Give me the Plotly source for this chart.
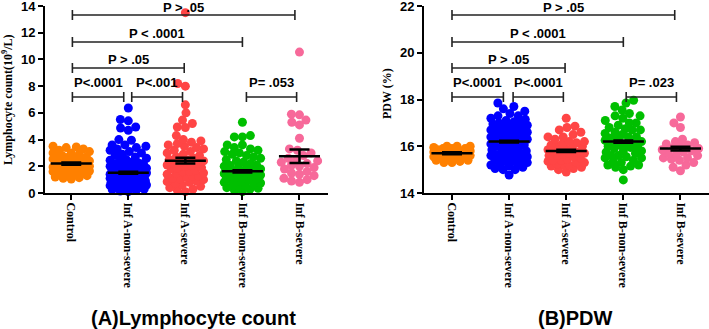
import math
import plotly.graph_objects as go

categories = ["Control", "Inf A-non-severe", "Inf A-severe", "Inf B-non-severe", "Inf B-severe"]
colors = ["#FF8000", "#0000FF", "#FF4545", "#00BF00", "#F7699A"]

# ---- Lymphocyte count (10^9/L) ----
lym_control = [1.05, 1.1, 1.15, 1.2, 1.3, 1.35, 1.4, 1.5, 1.55, 1.6, 1.65, 1.7, 1.75, 1.8, 1.85, 1.9, 1.95, 2.0, 2.0,
               2.05, 2.1, 2.15, 2.2, 2.2, 2.25, 2.3, 2.35, 2.4, 2.45, 2.5, 2.55, 2.6, 2.65, 2.7, 2.75, 2.8, 2.9,
               3.0, 3.0, 3.1, 3.2, 3.3, 3.4, 3.45, 3.5]
lym_infa_non = [0.1, 0.15, 0.2, 0.25, 0.3, 0.3, 0.35, 0.4, 0.4, 0.45, 0.5, 0.5, 0.55, 0.6, 0.6, 0.65, 0.7, 0.7,
                0.75, 0.8, 0.8, 0.85, 0.9, 0.9, 0.95, 1.0, 1.0, 1.05, 1.1, 1.1, 1.15, 1.2, 1.2, 1.25, 1.3, 1.3,
                1.35, 1.4, 1.4, 1.45, 1.5, 1.5, 1.55, 1.6, 1.6, 1.65, 1.7, 1.7, 1.75, 1.8, 1.85, 1.9, 1.95, 2.0,
                2.0, 2.1, 2.15, 2.2, 2.25, 2.3, 2.4, 2.45, 2.5, 2.6, 2.7, 2.8, 2.9, 3.0, 3.1, 3.2, 3.3, 3.4, 3.5,
                3.6, 3.6, 3.95, 4.0, 4.7, 4.87, 4.94, 5.4, 5.5, 6.36]
lym_infa_sev = [0.1, 0.2, 0.3, 0.4, 0.5, 0.6, 0.7, 0.8, 0.85, 0.9, 1.0, 1.05, 1.1, 1.2, 1.25, 1.3, 1.4, 1.45, 1.5,
                1.6, 1.65, 1.7, 1.8, 1.85, 1.9, 2.0, 2.05, 2.1, 2.2, 2.25, 2.3, 2.4, 2.45, 2.5, 2.6, 2.7, 2.8, 2.9,
                3.0, 3.1, 3.2, 3.3, 3.4, 3.5, 3.6, 3.7, 3.8, 3.9, 4.0, 4.3, 4.9, 4.94, 5.2, 5.46, 6.0, 6.6, 8.0,
                8.2, 13.5]
lym_infb_non = [0.1, 0.2, 0.3, 0.35, 0.4, 0.5, 0.55, 0.6, 0.7, 0.75, 0.8, 0.85, 0.9, 1.0, 1.0, 1.05, 1.1, 1.15,
                1.2, 1.25, 1.3, 1.35, 1.4, 1.45, 1.5, 1.5, 1.55, 1.6, 1.65, 1.7, 1.75, 1.8, 1.85, 1.9, 2.0, 2.05,
                2.1, 2.2, 2.3, 2.4, 2.5, 2.6, 2.7, 2.8, 2.9, 3.0, 3.1, 3.2, 3.3, 3.4, 3.6, 3.6, 4.2, 4.2, 4.3, 5.3]
lym_infb_sev = [0.8, 0.9, 1.0, 1.1, 1.3, 1.4, 1.5, 1.6, 1.8, 1.9, 2.0, 2.1, 2.2, 2.3, 2.4, 2.5, 2.6, 2.8, 3.0, 3.2,
                3.3, 4.1, 5.1, 5.3, 5.46, 5.85, 5.9, 10.55]
lym_center = [2.2, 1.52, 2.42, 1.62, 2.75]
lym_sem = [0.08, 0.07, 0.22, 0.08, 0.5]

# ---- PDW (%) ----
pdw_control = [15.3, 15.3, 15.35, 15.4, 15.4, 15.45, 15.5, 15.5, 15.5, 15.55, 15.6, 15.6, 15.6, 15.65, 15.65, 15.7,
               15.7, 15.7, 15.75, 15.8, 15.8, 15.8, 15.85, 15.9, 15.9, 15.9, 15.95, 16.0, 16.0, 16.0]
pdw_infa_non = [14.77, 15.0, 15.0, 15.05, 15.1, 15.15, 15.2, 15.2, 15.25, 15.3, 15.35, 15.4, 15.4, 15.45, 15.5,
                15.5, 15.55, 15.6, 15.6, 15.65, 15.7, 15.75, 15.8, 15.8, 15.85, 15.9, 15.95, 16.0, 16.0, 16.05,
                16.1, 16.1, 16.15, 16.2, 16.25, 16.3, 16.3, 16.35, 16.4, 16.4, 16.45, 16.5, 16.55, 16.6, 16.6,
                16.65, 16.7, 16.7, 16.75, 16.8, 16.85, 16.9, 16.9, 16.95, 17.0, 17.0, 17.05, 17.1, 17.15, 17.2,
                17.3, 17.3, 17.4, 17.5, 17.6, 17.7, 17.85]
pdw_infa_sev = [14.9, 15.0, 15.05, 15.1, 15.15, 15.2, 15.2, 15.25, 15.3, 15.3, 15.35, 15.4, 15.4, 15.45, 15.5,
                15.55, 15.6, 15.6, 15.65, 15.7, 15.7, 15.75, 15.8, 15.8, 15.85, 15.9, 15.95, 16.0, 16.0, 16.05,
                16.1, 16.15, 16.2, 16.2, 16.3, 16.4, 16.4, 16.5, 16.6, 16.7, 16.8, 16.86, 17.2]
pdw_infb_non = [14.56, 15.0, 15.1, 15.15, 15.2, 15.2, 15.3, 15.35, 15.4, 15.5, 15.5, 15.55, 15.6, 15.6, 15.7,
                15.75, 15.8, 15.8, 15.9, 15.95, 16.0, 16.0, 16.05, 16.1, 16.1, 16.15, 16.2, 16.25, 16.3, 16.35,
                16.4, 16.4, 16.5, 16.55, 16.6, 16.7, 16.7, 16.75, 16.8, 16.9, 17.0, 17.0, 17.1, 17.2, 17.3, 17.3,
                17.4, 17.55, 17.7, 17.85, 17.97]
pdw_infb_sev = [14.95, 15.1, 15.2, 15.3, 15.4, 15.45, 15.5, 15.5, 15.6, 15.65, 15.7, 15.75, 15.8, 15.85, 15.9,
                15.95, 16.0, 16.05, 16.1, 16.15, 16.2, 16.3, 16.8, 17.0, 17.25]
pdw_center = [15.7, 16.2, 15.8, 16.2, 15.9]
pdw_sem = [0.04, 0.04, 0.05, 0.05, 0.08]

lym_groups = [lym_control, lym_infa_non, lym_infa_sev, lym_infb_non, lym_infb_sev]
pdw_groups = [pdw_control, pdw_infa_non, pdw_infa_sev, pdw_infb_non, pdw_infb_sev]

# comparisons: (group i, group j, label)
lym_tests = [(0, 4, "P > .05"), (0, 3, "P < .0001"), (0, 2, "P > .05"),
             (0, 1, "P<.0001"), (1, 2, "P<.001"), (3, 4, "P= .053")]
pdw_tests = [(0, 4, "P > .05"), (0, 3, "P < .0001"), (0, 2, "P > .05"),
             (0, 1, "P<.0001"), (1, 2, "P<.0001"), (3, 4, "P= .023")]

# ---------------- layout geometry ----------------
W, H = 709, 329
PLOT_TOP, PLOT_BOT = 6, 193
X_PX_PER_CAT = 56.5
left_dom = [45 / W, 328 / W]
right_dom = [424 / W, 1.0]
ydom = [1 - PLOT_BOT / H, 1 - PLOT_TOP / H]
lym_range = [0, 14]
pdw_range = [14, 22]
lym_xrange = [-0.46, 4.5]
pdw_xrange = [-0.49, 4.5]


def swarm(vals, ypx, D=8.0, maxw=18):
    order = sorted(range(len(vals)), key=lambda i: vals[i])
    placed = []
    offs = [0.0] * len(vals)
    for i in order:
        y = vals[i] * ypx
        near = [(px, py) for px, py in placed if abs(py - y) < D]
        cands = [0.0]
        for px, py in near:
            dx = math.sqrt(max(D * D - (py - y) ** 2, 0))
            cands += [px + dx, px - dx]
        cands.sort(key=lambda c: (abs(c), c))
        chosen = None
        for c in cands:
            if abs(c) <= maxw + 1e-9 and all((c - px) ** 2 + (y - py) ** 2 >= D * D - 1e-6 for px, py in near):
                chosen = c
                break
        if chosen is None:
            best = -1
            for k in range(-maxw, maxw + 1):
                md = min(((k - px) ** 2 + (y - py) ** 2 for px, py in near), default=1e9)
                if md > best:
                    best = md
                    chosen = k
        placed.append((chosen, y))
        offs[i] = chosen / X_PX_PER_CAT
    return offs


fig = go.Figure()


def add_panel(groups, centers, sems, yr, xa, ya):
    ypx = (PLOT_BOT - PLOT_TOP) / (yr[1] - yr[0])
    for gi, vals in enumerate(groups):
        offs = swarm(vals, ypx)
        fig.add_trace(go.Scatter(
            x=[gi + o for o in offs], y=vals, mode="markers",
            marker=dict(color=colors[gi], size=9, line=dict(width=0)),
            xaxis=xa, yaxis=ya, showlegend=False, cliponaxis=False, hoverinfo="y"))
    for gi in range(len(groups)):
        fig.add_trace(go.Scatter(
            x=[gi - 0.36, gi + 0.36], y=[centers[gi], centers[gi]], mode="lines",
            line=dict(color="black", width=2.5), xaxis=xa, yaxis=ya, showlegend=False, hoverinfo="skip"))
        fig.add_trace(go.Scatter(
            x=[gi], y=[centers[gi]], mode="markers", marker=dict(size=1, color="black"),
            error_y=dict(type="data", array=[sems[gi]], color="black", thickness=2.5, width=10),
            xaxis=xa, yaxis=ya, showlegend=False, hoverinfo="skip"))


add_panel(lym_groups, lym_center, lym_sem, lym_range, "x", "y")
add_panel(pdw_groups, pdw_center, pdw_sem, pdw_range, "x2", "y2")

# brackets: pixel rows of bracket lines and label offsets
bracket_px = [15, 42, 68, 97, 97, 97]
label_shift = [7, 8, 8, 14, 14, 14]
lym_ends = [(0.02, 3.92), (0.02, 3.0), (0.02, 1.98), (0.02, 0.92), (1.06, 1.95), (3.07, 3.95)]
pdw_ends = [(0.0, 3.9), (0.0, 3.0), (0.0, 1.98), (0.0, 0.9), (1.07, 1.95), (3.05, 3.93)]


def add_brackets(tests, ends, yr, xa, ya):
    ypx = (PLOT_BOT - PLOT_TOP) / (yr[1] - yr[0])
    tick = 5 / ypx
    for k, (i, j, lab) in enumerate(tests):
        yv = yr[0] + (PLOT_BOT - bracket_px[k]) / ypx
        x0, x1 = ends[k]
        for (ax0, ay0, ax1, ay1) in [(x0, yv, x1, yv), (x0, yv - tick, x0, yv + tick), (x1, yv - tick, x1, yv + tick)]:
            fig.add_shape(type="line", x0=ax0, y0=ay0, x1=ax1, y1=ay1, xref=xa, yref=ya,
                          line=dict(color="#222", width=1.6))
        fig.add_annotation(x=(x0 + x1) / 2, y=yv, xref=xa, yref=ya, text=lab, showarrow=False,
                           yanchor="middle", yshift=label_shift[k],
                           font=dict(family="Arial, Liberation Sans", size=13, color="black", weight="bold"))


add_brackets(lym_tests, lym_ends, lym_range, "x", "y")
add_brackets(pdw_tests, pdw_ends, pdw_range, "x2", "y2")

axis_common = dict(showline=True, linewidth=2, linecolor="black", ticks="outside", ticklen=5, tickwidth=2,
                   tickcolor="black", showgrid=False, zeroline=False, automargin=False,
                   ticklabeloverflow="allow")
xfont = dict(family="Liberation Serif, Times New Roman", size=12, color="black", weight="bold")
yfont = dict(family="Arial, Liberation Sans", size=13, color="black", weight="bold")

fig.update_layout(
    width=W, height=H, margin=dict(l=0, r=0, t=0, b=0),
    paper_bgcolor="white", plot_bgcolor="white", showlegend=False,
    xaxis=dict(domain=left_dom, range=lym_xrange, tickvals=list(range(5)), ticktext=categories,
               tickangle=90, tickfont=xfont, anchor="y", **axis_common),
    yaxis=dict(domain=ydom, range=lym_range, dtick=2, tickfont=yfont, anchor="x", **axis_common),
    xaxis2=dict(domain=right_dom, range=pdw_xrange, tickvals=list(range(5)), ticktext=categories,
                tickangle=90, tickfont=xfont, anchor="y2", **axis_common),
    yaxis2=dict(domain=ydom, range=pdw_range, dtick=2, tickfont=yfont, anchor="x2", **axis_common),
)

# axis titles and panel titles
fig.add_annotation(x=8 / W, y=1 - 100 / H, xref="paper", yref="paper", text="Lymphocyte count(10<sup>9</sup>/L)",
                   textangle=-90, showarrow=False, xanchor="center", yanchor="middle",
                   font=dict(family="Liberation Serif, Times New Roman", size=12, color="black", weight="bold"))
fig.add_annotation(x=387 / W, y=1 - 94 / H, xref="paper", yref="paper", text="PDW (%)",
                   textangle=-90, showarrow=False, xanchor="center", yanchor="middle",
                   font=dict(family="Liberation Serif, Times New Roman", size=12, color="black", weight="bold"))
fig.add_annotation(x=193 / W, y=1 - 318 / H, xref="paper", yref="paper", text="(A)Lymphocyte count",
                   showarrow=False, xanchor="center", yanchor="middle",
                   font=dict(family="Arial, Liberation Sans", size=20, color="black", weight="bold"))
fig.add_annotation(x=575 / W, y=1 - 318 / H, xref="paper", yref="paper", text="(B)PDW",
                   showarrow=False, xanchor="center", yanchor="middle",
                   font=dict(family="Arial, Liberation Sans", size=20, color="black", weight="bold"))

fig.write_html("out.html", config={"displayModeBar": False},
               post_script="document.body.style.margin='0';document.body.style.overflow='hidden';")
